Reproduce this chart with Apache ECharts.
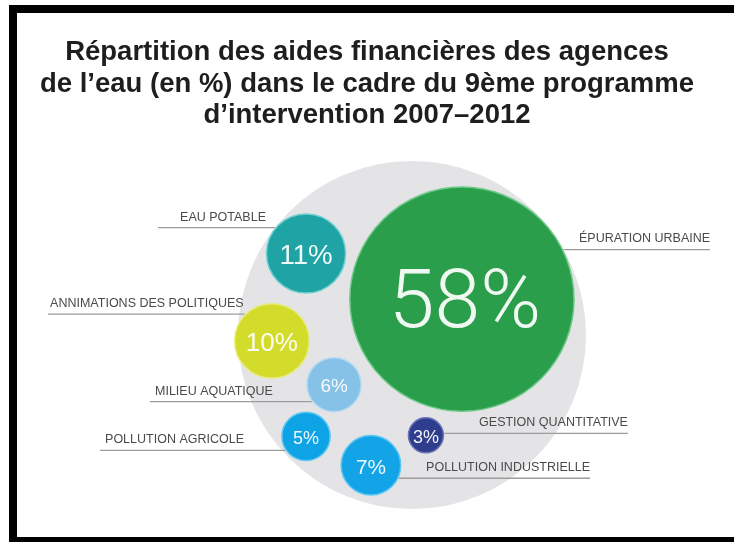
<!DOCTYPE html>
<html>
<head>
<meta charset="utf-8">
<script src="https://cdn.jsdelivr.net/npm/echarts@6/dist/echarts.min.js"></script>
<style>
  html, body { margin: 0; padding: 0; background: #ffffff; }
  #chart { width: 734px; height: 542px; }
</style>
</head>
<body>
<div id="chart"></div>
<script>
// Title, one entry per line
const titleLines = [
  'Répartition des aides financières des agences',
  'de l’eau (en %) dans le cadre du 9ème programme',
  'd’intervention 2007–2012'
];

// Aid categories and their share of the programme (%)
const categories = [
  'ÉPURATION URBAINE',
  'EAU POTABLE',
  'ANNIMATIONS DES POLITIQUES',
  'MILIEU AQUATIQUE',
  'POLLUTION AGRICOLE',
  'POLLUTION INDUSTRIELLE',
  'GESTION QUANTITATIVE'
];
const shares = [58, 11, 10, 6, 5, 7, 3];

// Bubble fill colours and their soft rims
const bubbleColors = ['#2a9e4a', '#1fa3a4', '#d3db2b', '#86c1e8', '#0ea3e4', '#12a4e6', '#2f3d8e'];
const rimColors    = ['#6cc987', '#6fcfd0', '#e6ec78', '#b3daf3', '#5cc6f2', '#5cc6f2', '#6a75b8'];

// Bubble placement on the plate (plate radius = 100 units, origin at its centre)
const bubbleX = [28.7, -60.9, -80.5, -44.8, -60.9, -23.6, 8.0];
const bubbleY = [20.7, 47.1, -3.4, -28.7, -58.6, -75.3, -58.0];

// Caption placement: side of the bubble, height of the underline,
// outer end of the underline and outer edge of the caption text (plate units)
const captionSide     = ['right', 'left', 'left', 'left', 'left', 'right', 'right'];
const captionLineY    = [49.4, 62.1, 12.1, -38.5, -66.7, -82.8, -56.9];
const captionLineEnd  = [171.3, -146.0, -209.2, -150.6, -179.3, 102.3, 124.1];
const captionTextEnd  = [171.3, -133.3, -208.0, -147.7, -176.4, 102.3, 124.1];

const chart = echarts.init(document.getElementById('chart'), null, { renderer: 'canvas' });

// Bubble radius in plate units grows with the share
function bubbleRadius(share) {
  return 5.05 * Math.pow(share, 0.627);
}

// Percentage label size follows the bubble, with a floor for the small ones
function percentFontSize(r) {
  return Math.max(18, r * 0.7) * (r > 80 ? 1.05 : 1);
}

const bubbleData = shares.map((v, i) => [bubbleX[i], bubbleY[i], v]);

const option = {
  backgroundColor: '#ffffff',
  animation: false,
  title: {
    text: titleLines.join('\n'),
    left: 'center',
    top: 37,
    padding: 0,
    textStyle: {
      fontFamily: 'Liberation Sans, Arial, sans-serif',
      fontWeight: 'bold',
      fontSize: 27.5,
      lineHeight: 31.5,
      color: '#1e1e1e'
    }
  },
  grid: { left: 238, top: 162, width: 348, height: 346 },
  xAxis: { type: 'value', min: -100, max: 100, show: false },
  yAxis: { type: 'value', min: -100, max: 100, show: false },
  graphic: [{
    type: 'rect',
    silent: true,
    z: 100,
    shape: { x: 13, y: 9, width: 800, height: 532 },
    style: { fill: 'none', stroke: '#000000', lineWidth: 8 }
  }],
  series: [
    {
      // grey plate behind the bubbles
      type: 'custom',
      silent: true,
      data: [[0, 0, 100]],
      renderItem(params, api) {
        const c = api.coord([api.value(0), api.value(1)]);
        const r = api.size([api.value(2), 0])[0];
        return {
          type: 'circle',
          shape: { cx: c[0], cy: c[1], r: r },
          style: { fill: '#e4e4e7' }
        };
      }
    },
    {
      type: 'custom',
      silent: true,
      clip: false,
      data: bubbleData,
      renderItem(params, api) {
        const i = params.dataIndex;
        const c = api.coord([api.value(0), api.value(1)]);
        const share = api.value(2);
        const r = api.size([bubbleRadius(share), 0])[0];
        const lineY = api.coord([0, captionLineY[i]])[1];
        const lineOuter = api.coord([captionLineEnd[i], 0])[0];
        const textOuter = api.coord([captionTextEnd[i], 0])[0];
        const dy = lineY - c[1];
        const dx = Math.sqrt(Math.max(0, (r + 1) * (r + 1) - dy * dy));
        const left = captionSide[i] === 'left';
        const lineInner = left ? c[0] - dx : c[0] + dx;
        const pctSize = percentFontSize(r);
        return {
          type: 'group',
          children: [
            {
              type: 'line',
              shape: { x1: lineOuter, y1: lineY, x2: lineInner, y2: lineY },
              style: { stroke: '#9c9c9c', lineWidth: 1.3 }
            },
            {
              type: 'text',
              x: textOuter,
              y: lineY - 4,
              style: {
                text: categories[i],
                fill: '#4a4a4a',
                fontFamily: 'Liberation Sans, Arial, sans-serif',
                fontSize: 12.5,
                align: left ? 'left' : 'right',
                verticalAlign: 'bottom'
              }
            },
            {
              type: 'circle',
              shape: { cx: c[0], cy: c[1], r: r },
              style: { fill: bubbleColors[i], stroke: rimColors[i], lineWidth: 1.5 }
            },
            {
              type: 'text',
              x: c[0] + (r > 80 ? 3 : 0),
              y: c[1] + 1 + pctSize * 0.08,
              style: {
                text: share + '%',
                fill: 'rgba(255,255,255,0.93)',
                fontFamily: share > 20 ? 'Roboto, Liberation Sans, sans-serif' : 'Liberation Sans, Arial, sans-serif',
                fontWeight: share > 20 ? 300 : 'normal',
                fontSize: pctSize,
                align: 'center',
                verticalAlign: 'middle'
              }
            }
          ]
        };
      }
    }
  ]
};

chart.setOption(option);
</script>
</body>
</html>
